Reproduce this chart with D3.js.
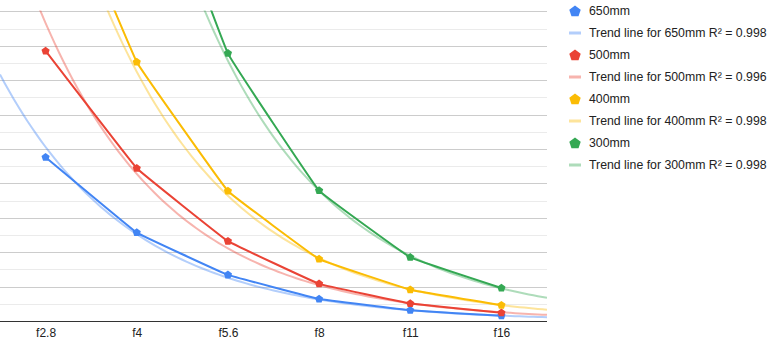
<!DOCTYPE html>
<html>
<head>
<meta charset="utf-8">
<script src="https://cdn.jsdelivr.net/npm/d3@7"></script>
<style>
  body { margin: 0; background: #fff; }
  svg { display: block; font-family: "Liberation Sans", Arial, sans-serif; }
</style>
</head>
<body>
<div id="chart"></div>
<script>
// categories (aperture stops)
const stops = ["f2.8", "f4", "f5.6", "f8", "f11", "f16"];
// series values (one gridline = 1 unit, no labels shown)
const s650 = [4.76, 2.57, 1.34, 0.64, 0.31, 0.15];
const s500 = [7.85, 4.44, 2.32, 1.08, 0.51, 0.24];
const s400 = [13.8, 7.53, 3.78, 1.80, 0.91, 0.46];
const s300 = [30.0, 15.0, 7.78, 3.79, 1.85, 0.96];
const seriesNames = ["650mm", "500mm", "400mm", "300mm"];
const rSquared = ["0.998", "0.996", "0.998", "0.998"];

const colors = ["#4285f4", "#ea4335", "#fbbc04", "#34a853"];
const width = 777, height = 348;
const plotW = 547, baseY = 321, topY = 11.4;

const svg = d3.select("#chart").append("svg")
    .attr("width", width)
    .attr("height", height);

svg.append("defs").append("clipPath").attr("id", "clip")
  .append("rect").attr("x", 0).attr("y", topY - 1).attr("width", plotW).attr("height", baseY - topY + 1);

//---------------------------SCALES----------------------------//
const x = d3.scalePoint().domain(stops).range([0, plotW]).padding(0.5);
const xi = d3.scaleLinear().domain([0.5, stops.length + 0.5]).range([0, plotW]);
const y = d3.scaleLinear().domain([0, 9]).range([baseY, topY]);

//---------------------------GRID------------------------------//
const ticks = d3.range(0.5, 9.01, 0.5);
svg.append("g").selectAll("line").data(ticks).join("line")
    .attr("x1", 0).attr("x2", plotW)
    .attr("y1", d => Math.round(y(d)) + 0.5).attr("y2", d => Math.round(y(d)) + 0.5)
    .attr("stroke", d => d % 1 === 0 ? "#cccccc" : "#ebebeb")
    .attr("stroke-width", 1);

//---------------------------AXIS------------------------------//
const xaxis = svg.append("g")
    .attr("transform", "translate(0," + baseY + ")")
    .call(d3.axisBottom(x).tickSize(0).tickPadding(7));
xaxis.select(".domain").remove();
xaxis.selectAll("text").attr("font-size", 12).attr("fill", "#222")
    .attr("font-family", "Liberation Sans, Arial, sans-serif");

//---------------------------LINES-----------------------------//
const all = [s650, s500, s400, s300];
const plot = svg.append("g").attr("clip-path", "url(#clip)");

// exponential trend lines (least squares on log values, x = 1..6)
function expFit(vals) {
  const xs = vals.map((v, i) => i + 1);
  const ls = vals.map(v => Math.log(v));
  const mx = d3.mean(xs), my = d3.mean(ls);
  const b = d3.sum(xs, (xv, i) => (xv - mx) * (ls[i] - my)) / d3.sum(xs, xv => (xv - mx) * (xv - mx));
  const a = Math.exp(my - b * mx);
  return t => a * Math.exp(b * t);
}
const trendLine = d3.line().x(d => xi(d[0])).y(d => y(d[1]));
all.forEach((vals, k) => {
  const f = expFit(vals);
  const pts = d3.range(0.5, 6.51, 0.05).map(t => [t, f(t)]);
  plot.append("path")
    .attr("d", trendLine(pts))
    .attr("fill", "none")
    .attr("stroke", colors[k])
    .attr("stroke-opacity", 0.4)
    .attr("stroke-width", 2);
});

const line = d3.line()
    .x((d, i) => x(stops[i]))
    .y(d => y(d))
    .curve(d3.curveCardinal.tension(0.85));
all.forEach((vals, k) => {
  plot.append("path")
    .attr("d", line(vals))
    .attr("fill", "none")
    .attr("stroke", colors[k])
    .attr("stroke-width", 2);
});

// pentagon markers
function pentagon(r) {
  const pts = d3.range(5).map(i => {
    const a = -Math.PI / 2 + i * 2 * Math.PI / 5;
    return [r * Math.cos(a), r * Math.sin(a)];
  });
  return "M" + pts.join("L") + "Z";
}
all.forEach((vals, k) => {
  plot.append("g").selectAll("path").data(vals).join("path")
    .attr("transform", (d, i) => "translate(" + x(stops[i]) + "," + y(d) + ")")
    .attr("d", pentagon(4.3))
    .attr("fill", colors[k]);
});

// baseline
svg.append("line")
    .attr("x1", 0).attr("x2", plotW)
    .attr("y1", baseY + 0.5).attr("y2", baseY + 0.5)
    .attr("stroke", "#333").attr("stroke-width", 1);

//---------------------------LEGEND----------------------------//
const legend = svg.append("g").attr("transform", "translate(575,11)");
seriesNames.forEach((name, k) => {
  const g1 = legend.append("g").attr("transform", "translate(0," + (k * 44) + ")");
  g1.append("path").attr("d", pentagon(6)).attr("fill", colors[k]).attr("transform", "translate(0,0.5)");
  g1.append("text").attr("x", 14).attr("dy", "0.35em")
    .attr("font-size", 12.3).attr("fill", "#222").text(name);
  const g2 = legend.append("g").attr("transform", "translate(0," + (k * 44 + 22) + ")");
  g2.append("line").attr("x1", -6).attr("x2", 6)
    .attr("stroke", colors[k]).attr("stroke-opacity", 0.4).attr("stroke-width", 3);
  g2.append("text").attr("x", 14).attr("dy", "0.35em")
    .attr("font-size", 12.3).attr("fill", "#222")
    .text("Trend line for " + name + " R² = " + rSquared[k]);
});
</script>
</body>
</html>
